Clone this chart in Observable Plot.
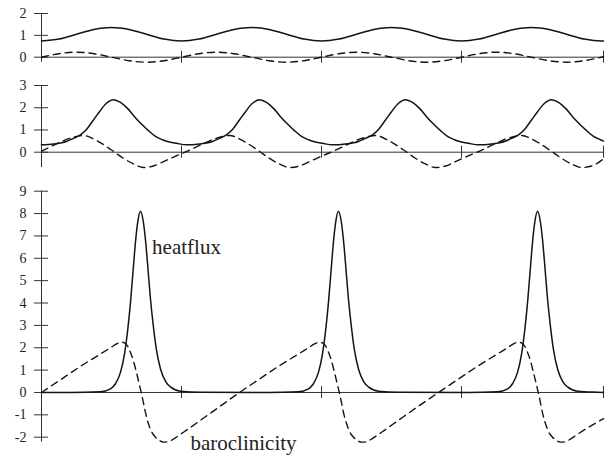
<!DOCTYPE html>
<html><head><meta charset="utf-8">
<script src="https://cdn.jsdelivr.net/npm/d3@7"></script>
<script src="https://cdn.jsdelivr.net/npm/@observablehq/plot@0.6"></script>
<style>body{margin:0;background:#fff} #chart svg{display:block}</style>
</head><body><div id="chart"></div>
<script>
// x ticks (no labels), shared by the three panels
const xTicks = [1, 2, 3, 4.014];
const xMax = 4.014;

// ---- top panel ----
const topTicks = [0, 1, 2];
const topX = [0,0.125,0.25,0.375,0.5,0.625,0.75,0.875,1,1.125,1.25,1.375,1.5,1.625,1.75,1.875,2,2.125,2.25,2.375,2.5,2.625,2.75,2.875,3,3.125,3.25,3.375,3.5,3.625,3.75,3.875,4,4.014];
const topHeat = [0.74,0.83,1.05,1.27,1.36,1.27,1.05,0.83, 0.74,0.83,1.05,1.27,1.36,1.27,1.05,0.83, 0.74,0.83,1.05,1.27,1.36,1.27,1.05,0.83, 0.74,0.83,1.05,1.27,1.36,1.27,1.05,0.83, 0.74,0.74];
const topBaro = [0,0.16,0.23,0.16,0,-0.16,-0.23,-0.16, 0,0.16,0.23,0.16,0,-0.16,-0.23,-0.16, 0,0.16,0.23,0.16,0,-0.16,-0.23,-0.16, 0,0.16,0.23,0.16,0,-0.16,-0.23,-0.16, 0,0.02];

// ---- middle panel ----
const midTicks = [0, 1, 2, 3];
const midHeatX = [0,0.085,0.178,0.228,0.278,0.321,0.371,0.414,0.464,0.514,0.564,0.614,0.664,0.714,0.764,0.814,0.864,0.914,0.964,1.035,
  1.128,1.221,1.271,1.321,1.364,1.414,1.457,1.507,1.557,1.607,1.657,1.707,1.757,1.807,1.857,1.907,1.957,2.007,2.078,
  2.171,2.264,2.314,2.364,2.407,2.457,2.5,2.55,2.6,2.65,2.7,2.75,2.8,2.85,2.9,2.95,3.0,3.05,3.121,
  3.214,3.307,3.357,3.407,3.45,3.5,3.543,3.593,3.643,3.693,3.743,3.793,3.843,3.893,3.943,3.993,4.014];
const midHeat = [0.33,0.37,0.48,0.62,0.78,1.02,1.45,1.82,2.2,2.36,2.24,1.97,1.6,1.27,0.97,0.71,0.56,0.46,0.4,0.33,
  0.37,0.48,0.62,0.78,1.02,1.45,1.82,2.2,2.36,2.24,1.97,1.6,1.27,0.97,0.71,0.56,0.46,0.4,0.33,
  0.37,0.48,0.62,0.78,1.02,1.45,1.82,2.2,2.36,2.24,1.97,1.6,1.27,0.97,0.71,0.56,0.46,0.4,0.33,
  0.37,0.48,0.62,0.78,1.02,1.45,1.82,2.2,2.36,2.24,1.97,1.6,1.27,0.97,0.71,0.56,0.5];
const midBaroX = [0,0.1,0.2,0.3,0.4,0.5,0.579,0.657,0.729,0.8,0.879,0.979,
  1.043,1.143,1.243,1.343,1.443,1.543,1.622,1.7,1.772,1.843,1.922,2.022,
  2.086,2.186,2.286,2.386,2.486,2.586,2.665,2.743,2.815,2.886,2.965,3.065,
  3.129,3.229,3.329,3.429,3.529,3.629,3.708,3.786,3.858,3.929,4.014];
const midBaro = [0.05,0.35,0.62,0.75,0.5,0.1,-0.25,-0.53,-0.69,-0.62,-0.4,-0.12,
  0.05,0.35,0.62,0.75,0.5,0.1,-0.25,-0.53,-0.69,-0.62,-0.4,-0.12,
  0.05,0.35,0.62,0.75,0.5,0.1,-0.25,-0.53,-0.69,-0.62,-0.4,-0.12,
  0.05,0.35,0.62,0.75,0.5,0.1,-0.25,-0.53,-0.69,-0.62,-0.3];

// ---- bottom panel ----
const botTicks = [-2,-1,0,1,2,3,4,5,6,7,8,9];
const botHeatX = [0,0.207,0.421,0.493,0.528,0.564,0.593,0.614,0.636,0.657,0.671,0.686,0.707,0.728,0.743,0.757,0.778,0.8,0.821,0.85,0.886,0.921,0.993,1.136,
  1.621,1.835,1.907,1.942,1.978,2.007,2.028,2.05,2.071,2.085,2.1,2.121,2.142,2.157,2.171,2.192,2.214,2.235,2.264,2.3,2.335,2.407,2.55,
  3.043,3.257,3.329,3.364,3.4,3.429,3.45,3.472,3.493,3.507,3.522,3.543,3.564,3.579,3.593,3.614,3.636,3.657,3.686,3.722,3.757,3.829,3.972,4.014];
const botHeat = [0,0,0.03,0.16,0.39,0.9,1.73,2.7,4.05,5.66,6.71,7.56,8.1,7.6,6.8,5.8,4.2,2.9,1.9,1.05,0.5,0.25,0.06,0.01,
  0,0.03,0.16,0.39,0.9,1.73,2.7,4.05,5.66,6.71,7.56,8.1,7.6,6.8,5.8,4.2,2.9,1.9,1.05,0.5,0.25,0.06,0.01,
  0,0.03,0.16,0.39,0.9,1.73,2.7,4.05,5.66,6.71,7.56,8.1,7.6,6.8,5.8,4.2,2.9,1.9,1.05,0.5,0.25,0.06,0.01,0];
const botBaroX = [0,0.143,0.286,0.429,0.5,0.536,0.571,0.592,0.614,0.635,0.657,0.679,0.7,0.721,0.743,0.764,0.786,0.814,0.843,0.871,0.907,0.95,1.014,1.143,1.271,
  1.414,1.557,1.7,1.843,1.914,1.95,1.986,2.007,2.029,2.05,2.072,2.093,2.115,2.136,2.157,2.179,2.2,2.229,2.257,2.286,2.322,2.365,2.429,2.557,2.686,
  2.836,2.978,3.121,3.264,3.336,3.371,3.407,3.428,3.45,3.471,3.493,3.514,3.536,3.557,3.578,3.6,3.621,3.65,3.678,3.707,3.743,3.786,3.85,4.014];
const botBaro = [0,0.6,1.2,1.75,2.03,2.17,2.25,2.22,2.08,1.8,1.4,0.88,0.32,-0.25,-0.9,-1.4,-1.75,-2.0,-2.15,-2.22,-2.2,-2.05,-1.78,-1.21,-0.64,
  0,0.6,1.2,1.75,2.03,2.17,2.25,2.22,2.08,1.8,1.4,0.88,0.32,-0.25,-0.9,-1.4,-1.75,-2.0,-2.15,-2.22,-2.2,-2.05,-1.78,-1.21,-0.64,
  0,0.6,1.2,1.75,2.03,2.17,2.25,2.22,2.08,1.8,1.4,0.88,0.32,-0.25,-0.9,-1.4,-1.75,-2.0,-2.15,-2.22,-2.2,-2.05,-1.78,-1.17];

const labelHeat = "heatflux";
const labelBaro = "baroclinicity";

const rows = (xs, ys) => xs.map((x, i) => ({x, y: ys[i]}));
const axisColor = "#333";
const curveColor = "#141414";

function panel({height, yDomain, yRange, yTicks, heatX, heat, baroX, baro, extra = []}) {
  const H = rows(heatX, heat), B = rows(baroX, baro);
  const pxPerUnit = (yRange[0] - yRange[1]) / (yDomain[1] - yDomain[0]);
  const half = 6 / pxPerUnit;
  const yLow = Math.min(0, d3.min(B, d => d.y), d3.min(H, d => d.y));
  return Plot.plot({
    width: 605, height,
    marginLeft: 41, marginRight: 2, marginTop: 0, marginBottom: 0,
    x: {domain: [0, xMax], range: [41, 603], axis: null},
    y: {domain: yDomain, range: yRange, axis: null},
    style: {fontFamily: "'Liberation Serif', 'Times New Roman', serif", fontSize: "14px", background: "#fff", overflow: "visible"},
    marks: [
      Plot.ruleY([0], {x1: 0, x2: xMax, stroke: axisColor, strokeWidth: 1}),
      Plot.ruleX([0], {y1: yLow, y2: yDomain[1], stroke: axisColor, strokeWidth: 1}),
      Plot.ruleY(yTicks, {x1: -0.05, x2: 0.05, stroke: axisColor, strokeWidth: 1}),
      Plot.ruleX(xTicks, {y1: -half, y2: half, stroke: axisColor, strokeWidth: 1}),
      Plot.text(yTicks, {x: 0, y: d => d, text: d => String(d), dx: -15, textAnchor: "end", fill: "#222", fontSize: 14}),
      Plot.line(H, {x: "x", y: "y", curve: "monotone-x", stroke: curveColor, strokeWidth: 1.5}),
      Plot.line(B, {x: "x", y: "y", curve: "monotone-x", stroke: curveColor, strokeWidth: 1.4, strokeDasharray: "7,5"}),
      ...extra
    ]
  });
}

const root = document.getElementById("chart");
root.append(panel({height: 68, yDomain: [0, 2], yRange: [56.7, 13], yTicks: topTicks,
  heatX: topX, heat: topHeat, baroX: topX, baro: topBaro}));
root.append(panel({height: 104, yDomain: [0, 3], yRange: [83.7, 17], yTicks: midTicks,
  heatX: midHeatX, heat: midHeat, baroX: midBaroX, baro: midBaro}));
root.append(panel({height: 284, yDomain: [-2, 9], yRange: [264.7, 18.7], yTicks: botTicks,
  heatX: botHeatX, heat: botHeat, baroX: botBaroX, baro: botBaro,
  extra: [
    Plot.text([labelHeat], {x: 0.79, y: 6.2, text: d => d, textAnchor: "start", lineAnchor: "bottom", fontSize: 21, fill: "#222"}),
    Plot.text([labelBaro], {x: 1.064, y: -2.59, text: d => d, textAnchor: "start", lineAnchor: "bottom", fontSize: 21, fill: "#222"})
  ]}));
</script>
</body></html>
